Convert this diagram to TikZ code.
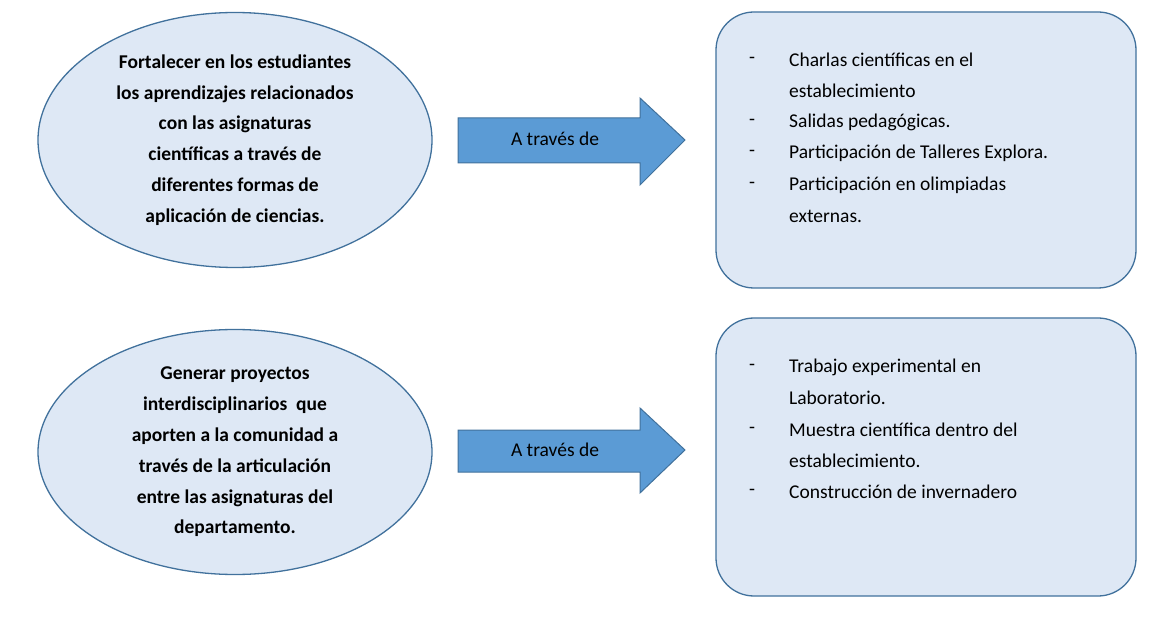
\documentclass[tikz,border=0pt]{standalone}
\usepackage{fontspec}
\setmainfont{Carlito}
\usetikzlibrary{shapes.geometric}
\definecolor{fillb}{HTML}{DEE8F5}
\definecolor{edgeb}{HTML}{41719C}
\definecolor{arrowb}{HTML}{5B9BD5}
\tikzset{
 goal/.style={ellipse,draw=edgeb,fill=fillb,line width=1.3pt,minimum width=394pt,minimum height=255pt,inner sep=0pt,align=center,font=\fontsize{19.5}{30.8}\selectfont\bfseries},
 listbox/.style={draw=edgeb,fill=fillb,line width=1.3pt,rounded corners=38pt},
 arr/.style={fill=arrowb,draw=edgeb,line width=1pt},
 lbl/.style={font=\fontsize{19.5}{30.8}\selectfont},
 item/.style={font=\fontsize{19.5}{30.8}\selectfont,anchor=west,inner sep=0pt}
}
\begin{document}
\begin{tikzpicture}[x=1pt,y=-1pt]
\useasboundingbox (0,0) rectangle (1170,617);
% ellipses
\node[goal] (g1) at (235,140) {Fortalecer en los estudiantes\\los aprendizajes relacionados\\con las asignaturas\\científicas a través de\\diferentes formas de\\aplicación de ciencias.};
\node[goal,minimum height=245pt] (g2) at (235,452) {Generar proyectos\\interdisciplinarios\ \ que\\aporten a la comunidad a\\través de la articulación\\entre las asignaturas del\\departamento.};
% arrows
\draw[arr] (458,118) -- (640,118) -- (640,98) -- (685,140) -- (640,185) -- (640,163) -- (458,163) -- cycle;
\node[lbl] (a1) at (555,139) {A través de};
\draw[arr] (458,430) -- (640,430) -- (640,408) -- (685,450) -- (640,493) -- (640,472) -- (458,472) -- cycle;
\node[lbl] (a2) at (555,450) {A través de};
% boxes
\draw[listbox] (716,12) rectangle (1136,288);
\draw[listbox] (716,318) rectangle (1136,596);
\foreach \y/\t [count=\i] in {60/Charlas científicas en el,122/Salidas pedagógicas.,153/Participación de Talleres Explora.,185/Participación en olimpiadas}{
 \node[item] (d\i) at (749,\y) {-};
 \node[item] (t\i) at (789,\y) {\t};
}
\node[item] (t1b) at (789,91) {establecimiento};
\node[item] (t4b) at (789,216) {externas.};
\foreach \y/\t [count=\i] in {367/Trabajo experimental en,430/Muestra científica dentro del,492/Construcción de invernadero}{
 \node[item] (e\i) at (749,\y) {-};
 \node[item] (u\i) at (789,\y) {\t};
}
\node[item] (u1b) at (789,398) {Laboratorio.};
\node[item] (u2b) at (789,461) {establecimiento.};
\end{tikzpicture}
\end{document}
